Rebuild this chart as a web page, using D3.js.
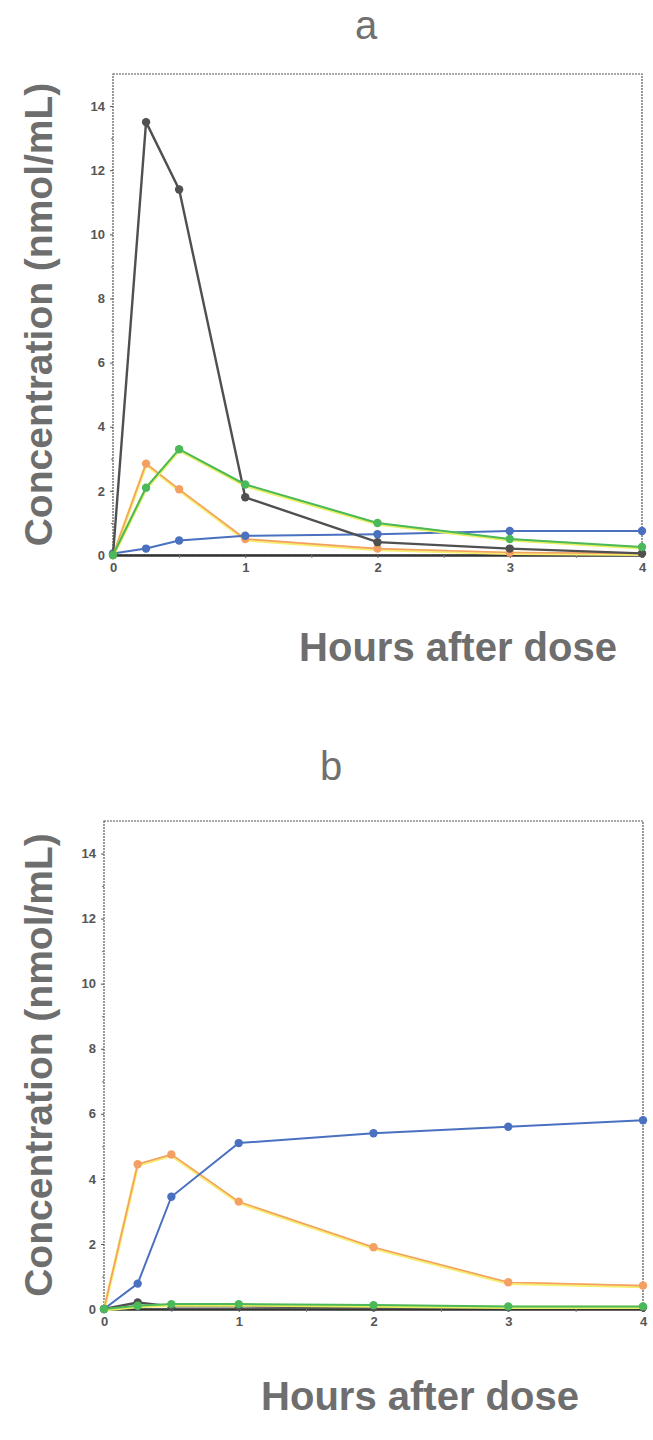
<!DOCTYPE html>
<html>
<head>
  <meta charset="utf-8">
  <title>Concentration after dose</title>
  <script src="https://d3js.org/d3.v7.min.js"></script>
  <style>
    body { margin: 0; background: #fff; }
    svg { display: block; }
    .tick text { font-family: "Liberation Sans", Arial, sans-serif; font-weight: bold; font-size: 13px; fill: #555; }
    .big { font-family: "Liberation Sans", Arial, sans-serif; font-weight: bold; fill: #6e6e6e; }
  </style>
</head>
<body>
  <svg width="653" height="1440"></svg>

  <script>
    const hours = [0, 0.25, 0.5, 1, 2, 3, 4];
    const yTicks = [0, 2, 4, 6, 8, 10, 12, 14];
    const xTicks = [0, 1, 2, 3, 4];

    // panel a
    const aBlack  = [0, 13.5, 11.4, 1.8, 0.4, 0.2, 0.05];
    const aGreen  = [0, 2.1, 3.3, 2.2, 1.0, 0.5, 0.25];
    const aOrange = [0, 2.85, 2.05, 0.5, 0.2, 0.08, 0.05];
    const aBlue   = [0.05, 0.2, 0.45, 0.6, 0.65, 0.75, 0.75];

    // panel b
    const bBlack  = [0, 0.2, 0.08, 0.08, 0.05, 0.05, 0.05];
    const bGreen  = [0, 0.1, 0.15, 0.15, 0.12, 0.08, 0.08];
    const bOrange = [0, 4.45, 4.75, 3.3, 1.9, 0.82, 0.72];
    const bBlue   = [0, 0.78, 3.45, 5.1, 5.4, 5.6, 5.8];

    const svg = d3.select("svg");

    function panel(opt) {
      const x = d3.scaleLinear().domain([0, 4]).range([opt.left, opt.right]);
      const y = d3.scaleLinear().domain([0, 15]).range([opt.bottom, opt.top]);
      const g = svg.append("g");

      // frame
      g.append("rect")
        .attr("x", opt.left).attr("y", opt.top)
        .attr("width", opt.right - opt.left).attr("height", opt.bottom - opt.top)
        .attr("fill", "none").attr("stroke", "#555").attr("stroke-width", 1.2)
        .attr("stroke-dasharray", "2,1");

      // y axis
      const ya = g.append("g").attr("transform", `translate(${opt.left},0)`)
        .call(d3.axisLeft(y).tickValues(yTicks).tickSize(3).tickPadding(5).tickFormat(d3.format("d")));
      ya.select(".domain").remove();
      ya.selectAll("line").attr("stroke", "#555");
      g.append("g").attr("transform", `translate(${opt.left},0)`)
        .call(d3.axisLeft(y).tickValues([1, 3, 5, 7, 9, 11, 13]).tickSize(2).tickFormat(""))
        .call(s => s.select(".domain").remove())
        .selectAll("line").attr("stroke", "#777");

      // x axis
      const xa = g.append("g").attr("transform", `translate(0,${opt.bottom})`)
        .call(d3.axisBottom(x).tickValues(xTicks).tickSize(3).tickPadding(5).tickFormat(d3.format("d")));
      xa.select(".domain").attr("stroke", "#333").attr("stroke-width", 2.5);
      xa.selectAll("line").attr("stroke", "#555");
      g.append("g").attr("transform", `translate(0,${opt.bottom})`)
        .call(d3.axisBottom(x).tickValues([0.5, 1.5, 2.5, 3.5]).tickSize(3).tickFormat(""))
        .call(s => s.select(".domain").remove())
        .selectAll("line").attr("stroke", "#777");

      const line = d3.line().x((d, i) => x(hours[i])).y(d => y(d));

      opt.series.forEach(s => {
        if (s.halo) {
          g.append("path").datum(s.values)
            .attr("d", line).attr("fill", "none")
            .attr("stroke", s.halo).attr("stroke-width", 3.2).attr("transform", "translate(0,1)");
        }
        g.append("path").datum(s.values)
          .attr("d", line).attr("fill", "none")
          .attr("stroke", s.color).attr("stroke-width", s.width);
        g.selectAll(null).data(s.values).enter().append("circle")
          .attr("cx", (d, i) => x(hours[i]))
          .attr("cy", d => y(d))
          .attr("r", 4.2)
          .attr("fill", s.color);
      });

      // labels
      g.append("text").attr("class", "big")
        .attr("x", opt.letterX).attr("y", opt.letterY)
        .attr("text-anchor", "middle")
        .style("font-weight", "normal").style("font-size", "40px").style("fill", "#707070")
        .text(opt.letter);
      g.append("text").attr("class", "big")
        .attr("x", opt.xLabelX).attr("y", opt.xLabelY)
        .attr("text-anchor", "middle").style("font-size", "40px")
        .text("Hours after dose");
      g.append("text").attr("class", "big")
        .attr("transform", `translate(${opt.yLabelX},${(opt.top + opt.bottom) / 2}) rotate(-90)`)
        .attr("text-anchor", "middle").style("font-size", "39px")
        .text("Concentration (nmol/mL)");
    }

    panel({
      left: 113, right: 642, top: 74, bottom: 555,
      letter: "a", letterX: 366, letterY: 39,
      xLabelX: 458, xLabelY: 661, yLabelX: 52,
      series: [
        { values: aOrange, color: "#f4a065", halo: "#f6ee70", width: 1.6 },
        { values: aBlue, color: "#4a70c0", width: 2 },
        { values: aBlack, color: "#505050", width: 2.4 },
        { values: aGreen, color: "#4bb85a", halo: "#e6f060", width: 2 }
      ]
    });

    panel({
      left: 104, right: 643, top: 821, bottom: 1309,
      letter: "b", letterX: 331, letterY: 780,
      xLabelX: 420, xLabelY: 1410, yLabelX: 52,
      series: [
        { values: bBlack, color: "#505050", width: 2.4 },
        { values: bOrange, color: "#f4a065", halo: "#f6ee70", width: 1.6 },
        { values: bBlue, color: "#4a70c0", width: 2 },
        { values: bGreen, color: "#4bb85a", halo: "#e6f060", width: 2 }
      ]
    });
  </script>
</body>
</html>
